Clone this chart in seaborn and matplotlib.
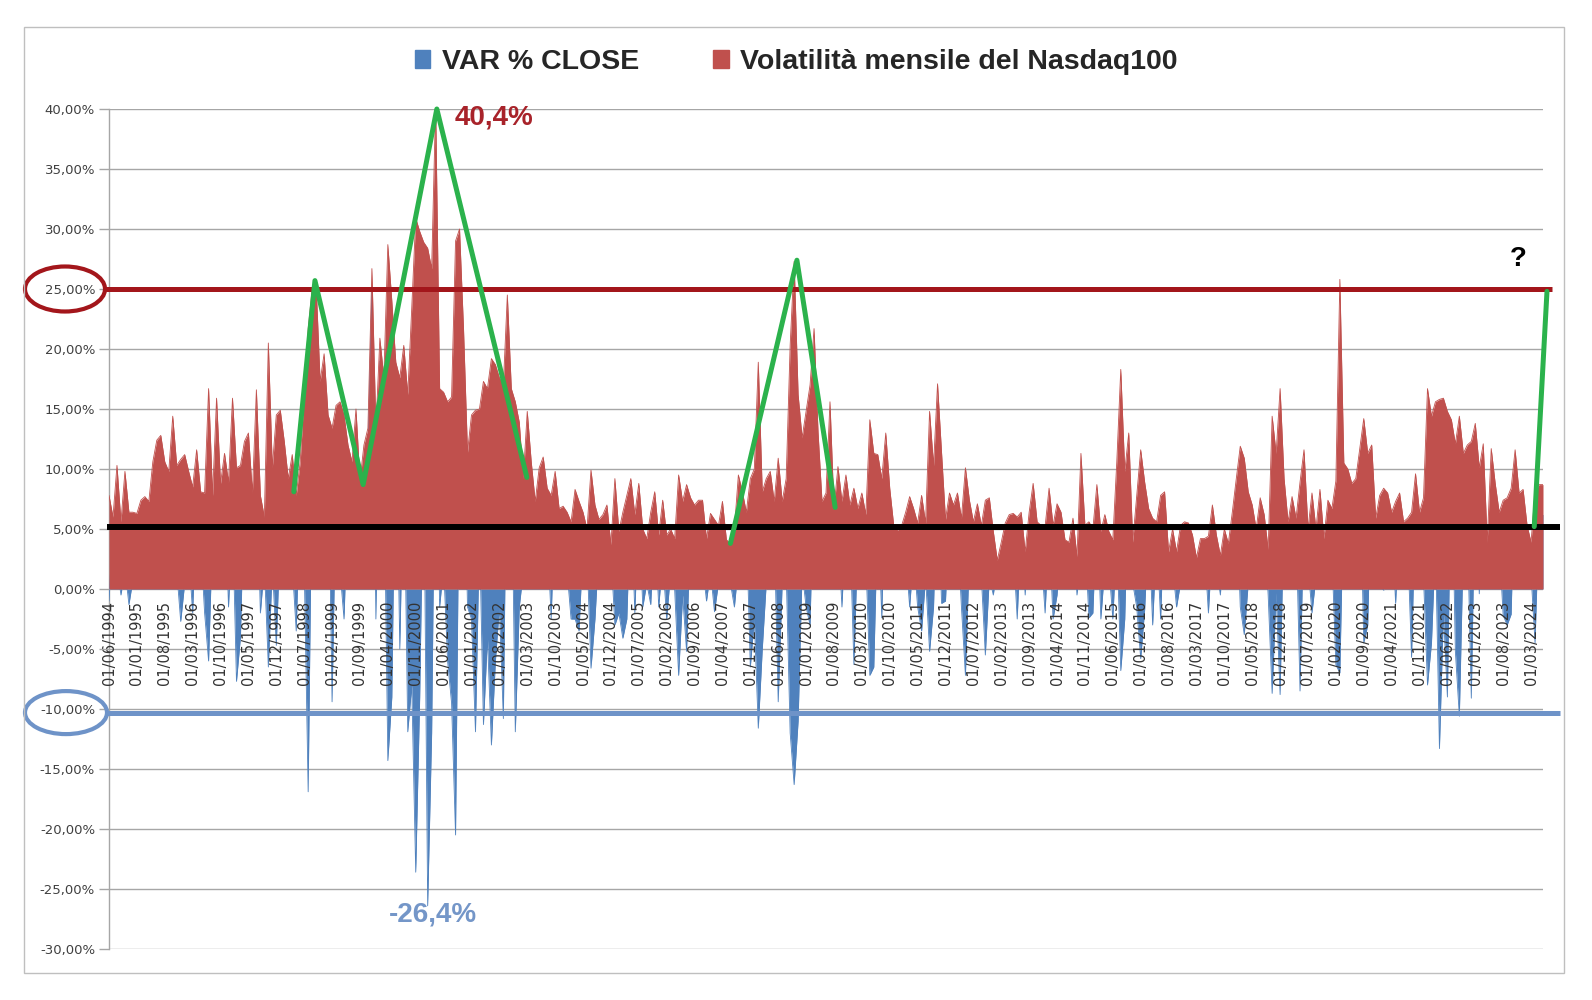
import numpy as np
import pandas as pd
import matplotlib
matplotlib.use("Agg")
import matplotlib.pyplot as plt
import matplotlib.patches as mpatches
import matplotlib.transforms as mtransforms
from matplotlib import font_manager as fm
import seaborn as sns

# ---------------- data (percent) ----------------
start_month = "1994-06-01"

volatility = [
    7.8, 6.0, 10.3, 5.6, 9.8, 6.4, 6.4, 6.3, 7.4, 7.7,
    7.3, 10.6, 12.4, 12.8, 10.6, 9.8, 14.4, 10.3, 10.8, 11.2,
    9.8, 8.5, 11.6, 8.1, 8.0, 16.7, 7.8, 15.9, 8.8, 11.3,
    8.9, 15.9, 10.1, 10.3, 12.3, 13.0, 8.0, 16.6, 7.8, 6.0,
    20.5, 10.1, 14.5, 14.9, 12.3, 9.2, 11.2, 7.8, 10.6, 16.4,
    21.7, 25.0, 25.3, 17.3, 19.6, 14.5, 13.4, 15.3, 15.6, 14.5,
    12.0, 10.6, 15.0, 9.0, 12.0, 13.4, 26.7, 13.4, 20.9, 17.6,
    28.7, 24.0, 18.9, 17.6, 20.3, 16.2, 23.4, 30.9, 29.8, 28.9,
    28.4, 26.7, 40.4, 16.7, 16.4, 15.6, 16.0, 29.0, 30.0, 21.7,
    11.4, 14.5, 14.9, 15.0, 17.3, 16.7, 19.2, 18.7, 17.6, 17.0,
    24.5, 16.7, 15.6, 13.9, 9.2, 14.8, 10.6, 7.3, 10.1, 11.0,
    8.4, 7.8, 9.8, 6.7, 6.9, 6.4, 5.6, 8.3, 7.3, 6.4,
    5.0, 9.9, 7.0, 5.8, 6.2, 7.0, 3.7, 9.2, 4.8, 6.4,
    7.8, 9.2, 6.2, 8.8, 5.0, 4.2, 6.4, 8.1, 4.5, 7.4,
    4.5, 5.0, 4.2, 9.5, 7.3, 8.7, 7.6, 7.0, 7.4, 7.4,
    4.2, 6.3, 5.8, 5.3, 7.3, 4.1, 3.8, 5.0, 9.5, 8.1,
    6.4, 9.2, 10.0, 18.9, 8.1, 9.2, 9.8, 7.3, 10.9, 7.3,
    9.2, 20.3, 27.3, 16.2, 12.6, 14.8, 17.0, 21.7, 13.1, 7.3,
    8.0, 15.6, 6.7, 10.2, 7.3, 9.5, 7.0, 8.4, 6.7, 8.0,
    6.2, 14.1, 11.3, 11.2, 9.2, 13.0, 8.4, 5.3, 4.9, 5.3,
    6.4, 7.7, 6.7, 5.5, 7.8, 5.5, 14.8, 10.3, 17.1, 11.4,
    5.8, 8.0, 7.0, 8.0, 5.9, 10.1, 7.4, 5.6, 7.1, 5.3,
    7.4, 7.6, 4.8, 2.4, 3.9, 5.5, 6.2, 6.3, 6.0, 6.4,
    3.1, 6.4, 8.8, 5.6, 5.3, 5.2, 8.4, 5.3, 7.1, 6.4,
    4.1, 3.9, 5.9, 2.7, 11.3, 5.3, 5.6, 5.0, 8.7, 4.8,
    6.2, 4.8, 4.1, 10.6, 18.3, 9.8, 13.0, 3.9, 7.8, 11.6,
    8.9, 6.7, 5.9, 5.6, 7.8, 8.1, 3.1, 5.0, 3.1, 5.3,
    5.6, 5.5, 4.5, 2.6, 4.2, 4.2, 4.4, 7.0, 4.5, 2.8,
    5.0, 3.8, 6.4, 9.2, 11.9, 10.9, 8.1, 7.0, 5.0, 7.6,
    6.2, 3.3, 14.4, 11.3, 16.7, 9.2, 5.6, 7.7, 5.9, 8.9,
    11.6, 5.0, 8.0, 5.0, 8.3, 4.2, 7.4, 6.7, 9.0, 25.8,
    10.5, 10.0, 8.8, 9.2, 11.7, 14.2, 11.3, 12.0, 5.9, 7.8,
    8.4, 8.0, 6.4, 7.3, 8.0, 5.6, 5.9, 6.4, 9.6, 6.4,
    7.6, 16.7, 14.4, 15.6, 15.8, 15.9, 14.8, 14.1, 12.1, 14.4,
    11.3, 12.0, 12.3, 13.8, 10.1, 12.1, 3.9, 11.7, 8.8, 6.4,
    7.4, 7.6, 8.4, 11.6, 8.0, 8.3, 5.3, 3.9, 8.1, 8.7, 8.7,
]

var_close = [
    # 1994 Jun-Dec
    -1.0, 5.5, 2.0, -0.5, 1.7, -1.3, 0.8,
    # 1995
    1.5, 5.0, 4.0, 4.5, 2.5, 8.5, 7.0, 0.5, 2.0, 1.0, 1.5, -2.7,
    # 1996
    0.5, 3.0, -2.0, 8.0, 4.0, -2.0, -6.0, 5.0, 10.0, 0.5, 9.0, -1.5,
    # 1997
    6.0, -7.7, -4.0, 9.0, 11.0, 2.0, 11.0, -2.0, 2.0, -6.5, 2.0, -4.7,
    # 1998
    5.0, 9.0, 4.0, 2.0, -3.5, 8.0, 2.0, -16.9, 12.0, 11.0, 10.0, 17.0,
    # 1999
    13.0, -9.4, 9.0, 1.5, -2.5, 8.0, 1.0, 3.5, 1.5, 7.0, 11.0, 25.0,
    # 2000
    -2.5, 19.0, 11.0, -14.3, -9.0, 16.0, -5.0, 12.0, -11.9, -8.0, -23.6, -9.0,
    # 2001
    12.0, -26.4, -12.0, 19.0, -1.5, 2.0, -6.0, -9.5, -20.5, 14.0, 15.0, -1.5,
    # 2002
    -2.5, -11.9, 5.0, -11.3, -4.0, -13.0, -6.0, -1.5, -10.8, 18.0, 12.0, -11.9,
    # 2003
    -1.5, 1.5, 2.0, 9.0, 6.5, 1.5, 6.0, 5.0, -2.5, 8.0, 1.5, 2.0,
    # 2004
    1.5, -2.5, -2.5, -3.5, 4.0, 3.0, -6.6, -2.5, 3.5, 5.0, 4.0, 3.0,
    # 2005
    -3.0, -2.0, -4.1, -2.5, 8.0, -2.0, 7.0, -1.5, 0.5, -1.3, 6.0, -1.5,
    # 2006
    2.5, -2.5, 1.5, 0.0, -7.2, -0.5, -5.2, 6.0, 5.0, 5.0, 2.0, -1.0,
    # 2007
    1.5, -1.9, 0.5, 6.0, 3.0, 0.5, -1.5, 2.0, 6.0, 5.5, -6.5, -2.5,
    # 2008
    -11.6, -5.0, 0.5, 7.5, 5.0, -9.4, 0.5, 1.5, -12.0, -16.3, -11.0, 1.5,
    # 2009
    -1.5, -3.0, 11.0, 11.0, 5.0, 4.0, 8.0, 1.5, 5.0, -1.5, 6.0, 5.0,
    # 2010
    -6.3, 4.5, 7.5, 2.5, -7.2, -6.5, 7.0, -2.4, 12.0, 6.0, 0.5, 4.0,
    # 2011
    3.0, 3.0, -1.5, 3.0, -1.5, -3.5, 1.0, -5.2, -1.5, 11.0, -1.2, -1.0,
    # 2012
    7.0, 6.5, 5.0, -1.5, -7.2, 3.0, 1.0, 5.0, 1.0, -5.5, 1.0, -0.5,
    # 2013
    2.0, 0.5, 3.0, 2.5, 3.5, -2.5, 5.5, -0.5, 5.0, 5.0, 3.5, 3.0,
    # 2014
    -2.0, 5.0, -2.5, -0.5, 4.0, 3.0, 1.0, 5.0, -0.5, 2.5, 4.5, -2.4,
    # 2015
    -2.0, 7.0, -2.5, 2.0, 2.0, -2.5, 4.5, -6.8, -2.5, 11.0, 0.5, -1.5,
    # 2016
    -5.8, -1.7, 5.5, -3.0, 4.5, -2.5, 7.0, 1.0, 2.0, -1.5, 0.5, 1.0,
    # 2017
    5.0, 4.0, 2.0, 2.5, 3.5, -2.0, 4.0, 2.0, -0.5, 4.5, 2.0, 0.5,
    # 2018
    8.5, -1.5, -3.8, 0.5, 5.5, 1.0, 2.5, 5.5, -0.5, -8.7, -0.3, -8.8,
    # 2019
    8.0, 3.0, 4.0, 5.5, -8.5, 7.5, 2.0, -2.0, 1.0, 4.5, 4.0, 4.0,
    # 2020
    3.0, -6.3, -7.0, 9.0, 6.0, 6.0, 7.0, 11.0, -4.5, -3.0, 11.0, 5.0,
    # 2021
    0.3, -0.1, 1.5, 6.0, -1.2, 6.0, 3.0, 4.0, -5.7, 8.0, 2.0, 1.0,
    # 2022
    -8.0, -4.5, 4.0, -13.3, -1.9, -9.0, 12.5, -5.2, -10.6, 4.0, 5.5, -9.1,
    # 2023
    10.5, -0.4, 9.5, 0.5, 7.7, 6.3, 3.8, -2.2, -3.0, -2.1, 10.7, 5.5,
    # 2024 Jan-Jun
    1.8, 4.5, 1.2, -4.5, 6.3, 6.2,
]

legend_labels = ["VAR % CLOSE", "Volatilità mensile del Nasdaq100"]
y_ticks = list(range(-30, 45, 5))
label_step = 7  # a date label every 7 months

# hand-drawn annotation trend lines (month index, percent)
green_segments = [
    ([46.4, 51.7, 63.8, 82.3, 104.9], [8.1, 25.7, 8.7, 40.0, 9.3]),
    ([156.0, 172.7, 182.3], [3.8, 27.4, 6.8]),
    ([357.8, 361.0], [5.2, 24.8]),
]
red_level = 25.0
black_level = 5.2
blue_level = -10.3
peak_text = "40,4%"
trough_text = "-26,4%"

# ---------------- fonts ----------------
def pick(fams):
    for f in fams:
        try:
            fm.findfont(fm.FontProperties(family=f), fallback_to_default=False)
            return f
        except Exception:
            pass
    return "DejaVu Sans"

narrow = pick(["Liberation Sans Narrow", "Liberation Sans", "DejaVu Sans"])
is_narrow = narrow == "Liberation Sans Narrow"
big_size = 22 if is_narrow else 20.5
ann_size = 24 if is_narrow else 20

sns.set_theme(style="white")
plt.rcParams["font.family"] = ["DejaVu Sans"]

# ---------------- build ----------------
n = len(volatility)
dates = pd.date_range(start_month, periods=n, freq="MS")
df = pd.DataFrame({"m": np.arange(n), "vol": volatility, "var": var_close})

RED = "#C0504D"
BLUE = "#4F81BD"
GREEN = "#2BB24C"
GRID = "#A6A6A6"

fig = plt.figure(figsize=(15.92, 10), dpi=100)
W, H = 1592, 1000
ax = fig.add_axes([109 / W, 1 - 949 / H, (1543 - 109) / W, (949 - 109) / H])

# gridlines behind the series (drawn as lines so tick labels can stay on top)
for yv in y_ticks:
    ax.axhline(yv, color=GRID, lw=1.0, zorder=0.2)

# areas: blue first, red on top
ax.fill_between(df["m"], 0, df["var"], color=BLUE, lw=0, zorder=1)
sns.lineplot(data=df, x="m", y="var", ax=ax, color=BLUE, lw=0.6, zorder=1.05)
ax.fill_between(df["m"], 0, df["vol"], color=RED, lw=0, zorder=1.1)
sns.lineplot(data=df, x="m", y="vol", ax=ax, color=RED, lw=0.6, zorder=1.15)

# green trend lines
for xs, ys in green_segments:
    sns.lineplot(x=xs, y=ys, ax=ax, sort=False, color=GREEN, lw=3.6, zorder=5)
for line in ax.get_lines()[-len(green_segments):]:
    line.set_clip_on(False)
    line.set_solid_joinstyle("round")
    line.set_solid_capstyle("round")

# reference lines (extend outside plot like the drawn shapes)
ax.plot([-1.0, 362.3], [red_level, red_level], color="#A3161B", lw=3.6,
        zorder=4, clip_on=False, solid_capstyle="butt")
ax.plot([-0.5, 364.3], [black_level, black_level], color="black", lw=4.3,
        zorder=4, clip_on=False, solid_capstyle="butt")
ax.plot([-0.5, 364.3], [blue_level, blue_level], color="#6E93C8", lw=3.6,
        zorder=4, clip_on=False, solid_capstyle="butt")

ax.set_xlim(0, n - 1)
ax.set_ylim(-30, 40)
ax.set_xlabel("")
ax.set_ylabel("")
ax.grid(False)
ax.set_axisbelow(False)

# y axis
ax.set_yticks(y_ticks)
ax.set_yticklabels([f"{v:.2f}%".replace(".", ",") for v in y_ticks])
ax.tick_params(axis="y", length=7, width=1, color=GRID, pad=3,
               labelsize=9.5, labelcolor="#404040", left=True)

# x axis at zero
tick_pos = list(range(0, n, label_step))
ax.set_xticks(tick_pos)
ax.set_xticklabels([dates[i].strftime("%d/%m/%Y") for i in tick_pos])
ax.spines["bottom"].set_position(("data", 0))
ax.spines["bottom"].set_visible(False)
ax.tick_params(axis="x", length=0, pad=8.5, labelsize=10.5, labelcolor="#333333",
               bottom=True, labelrotation=90)
for lab in ax.get_xticklabels():
    lab.set_rotation(90)
    lab.set_va("top")
    lab.set_ha("center")
for s in ["top", "right"]:
    ax.spines[s].set_visible(False)
ax.spines["left"].set_color(GRID)
ax.spines["left"].set_linewidth(1)
ax.spines["left"].set_zorder(0.3)

# ellipses around the 25% and -10% tick labels
blend = mtransforms.blended_transform_factory(fig.transFigure, ax.transData)
ax.add_patch(mpatches.Ellipse((65 / W, red_level), 80 / W, 45 / 12.0,
                              transform=blend, fill=False, ec="#A3161B",
                              lw=3.0, clip_on=False, zorder=6))
ax.add_patch(mpatches.Ellipse((66 / W, blue_level), 82 / W, 43 / 12.0,
                              transform=blend, fill=False, ec="#6E93C8",
                              lw=3.0, clip_on=False, zorder=6))

# annotations
ax.text(96.7, 39.3, peak_text, color="#A8232A", fontsize=ann_size,
        fontweight="bold", family=narrow, ha="center", va="center", zorder=7)
ax.text(81.3, -27.1, trough_text, color="#7496C8", fontsize=ann_size,
        fontweight="bold", family=narrow, ha="center", va="center", zorder=7)
ax.text(353.8, 27.5, "?", color="black", fontsize=ann_size,
        fontweight="bold", family=narrow, ha="center", va="center", zorder=7)

# legend
handles = [mpatches.Patch(color=BLUE), mpatches.Patch(color=RED)]
fig.legend(handles, legend_labels, loc="center", bbox_to_anchor=(0.5, 0.938),
           ncol=2, frameon=False,
           prop=fm.FontProperties(family=narrow, weight="bold", size=big_size),
           handlelength=0.55, handleheight=0.55, handletextpad=0.4,
           columnspacing=2.6)

# outer chart border
fig.add_artist(mpatches.Rectangle((24 / W, 0.027), 1540 / W, 0.946,
                                  transform=fig.transFigure, fill=False,
                                  ec="#BFBFBF", lw=1.0))

fig.savefig("out.png", dpi=100, facecolor="white")
